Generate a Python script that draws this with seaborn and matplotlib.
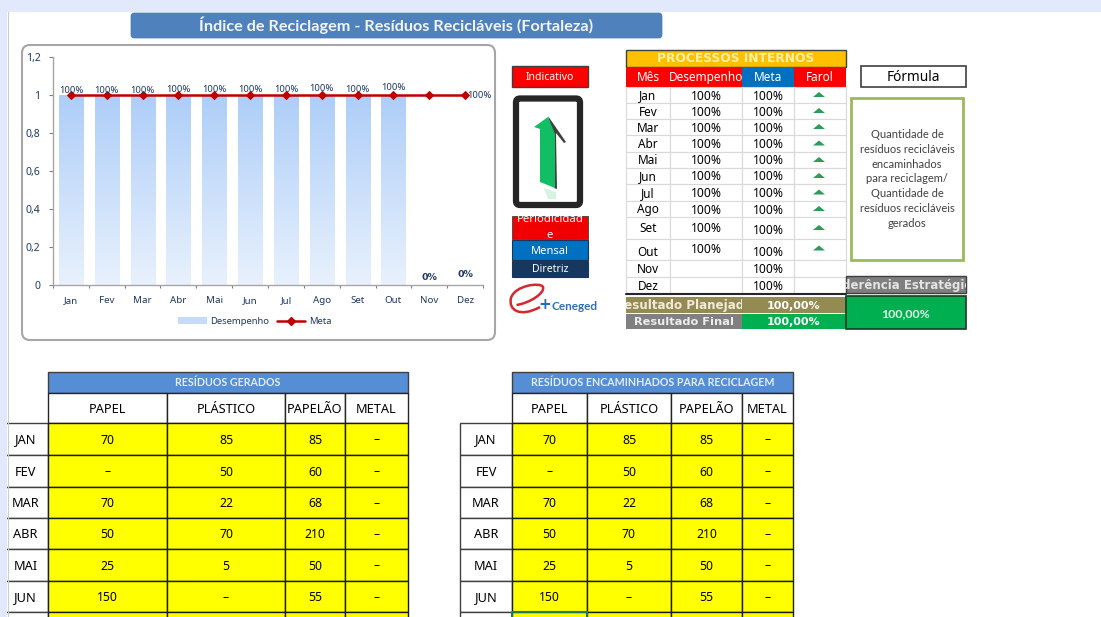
import numpy as np
import seaborn as sns
import matplotlib
matplotlib.use('Agg')
import matplotlib.pyplot as plt
from matplotlib.colors import LinearSegmentedColormap
from matplotlib.lines import Line2D
from matplotlib.path import Path
from matplotlib.patches import FancyBboxPatch, Patch, PathPatch, Polygon, Rectangle

# dados do grafico
meses = ['Jan', 'Fev', 'Mar', 'Abr', 'Mai', 'Jun', 'Jul', 'Ago', 'Set', 'Out', 'Nov', 'Dez']
desempenho = [1, 1, 1, 1, 1, 1, 1, 1, 1, 1, 0, 0]
meta = [1, 1, 1, 1, 1, 1, 1, 1, 1, 1, 1, 1]
rotulos_desempenho = ['100%'] * 10 + ['0%', '0%']
y_ticks = [0, 0.2, 0.4, 0.6, 0.8, 1, 1.2]
y_tick_labels = ['0', '0,2', '0,4', '0,6', '0,8', '1', '1,2']

# tabela processos internos
tab_desempenho = ['100%'] * 10 + ['', '']
tab_meta = ['100%'] * 12
tab_farol = [1, 1, 1, 1, 1, 1, 1, 1, 1, 1, 0, 0]

# tabelas de residuos
meses_res = ['JAN', 'FEV', 'MAR', 'ABR', 'MAI', 'JUN']
colunas_res = ['PAPEL', 'PLÁSTICO', 'PAPELÃO', 'METAL']
papel = ['70', '–', '70', '50', '25', '150']
plastico = ['85', '50', '22', '70', '5', '–']
papelao = ['85', '60', '68', '210', '50', '55']
metal = ['–', '–', '–', '–', '–', '–']

formula = ('Quantidade de\nresíduos recicláveis\nencaminhados\npara reciclagem/\n'
           'Quantidade de\nresíduos recicláveis\ngerados')

sns.set_theme(style='white')
plt.rcParams['font.family'] = ['Noto Sans', 'DejaVu Sans']

fig = plt.figure(figsize=(11.01, 6.17), dpi=100)
fundo = fig.add_axes([0, 0, 1, 1])
fundo.set_xlim(0, 1101)
fundo.set_ylim(617, 0)
fundo.axis('off')

AZUL_TXT = '#1F3864'


def cell(x0, y0, x1, y1, txt='', fc='white', ec='none', lw=0.8, color='black', fs=8,
         bold=False, clip=False, dy=0, family=None, ls=1.2):
    r = Rectangle((x0, y0), x1 - x0, y1 - y0, facecolor=fc, edgecolor=ec, linewidth=lw, zorder=2)
    fundo.add_patch(r)
    if txt:
        if family is None:
            family = 'DejaVu Sans' if bold else plt.rcParams['font.family']
        t = fundo.text((x0 + x1) / 2, (y0 + y1) / 2 + 1 + dy, txt, ha='center', va='center', color=color,
                       fontsize=fs, fontweight='bold' if bold else 'normal', zorder=4, family=family,
                       linespacing=ls)
        if clip:
            t.set_clip_path(r)
            t.set_clip_on(True)
    return r


# fundo lavanda da janela
fundo.add_patch(Rectangle((0, 0), 1101, 12, facecolor='#E3E9FC', edgecolor='none'))
fundo.add_patch(Rectangle((0, 0), 7, 617, facecolor='#E3E9FC', edgecolor='none', zorder=3))
fundo.plot([7.5, 7.5], [12, 617], color='#C9CDD6', lw=0.8, zorder=3)

# titulo
fundo.add_patch(FancyBboxPatch((133, 15), 527, 21, boxstyle='round,pad=2,rounding_size=3',
                               facecolor='#4F81BD', edgecolor='#4A7AB5', lw=0.5))
fundo.text(396, 25, 'Índice de Reciclagem - Resíduos Recicláveis (Fortaleza)', ha='center', va='center',
           color='#F2F5FA', fontsize=11.7, fontweight='bold', family='Lato')

# moldura do grafico
fundo.add_patch(FancyBboxPatch((30, 53), 457, 279, boxstyle='round,pad=8,rounding_size=8',
                               facecolor='white', edgecolor='#A6A6A6', lw=1.5))

# grafico de barras + linha
ax = fig.add_axes([53 / 1101, 1 - 285 / 617, 430 / 1101, 228 / 617])
ax.patch.set_alpha(0)
sns.barplot(x=meses, y=desempenho, color='#C6DBF9', width=0.67, ax=ax, zorder=2)

grad = LinearSegmentedColormap.from_list('grad', ['#AECEF8', '#E8F1FD'])
g = np.linspace(0, 1, 64).reshape(-1, 1)
for p in ax.patches:
    if p.get_height() > 0:
        ax.imshow(g, cmap=grad, aspect='auto', zorder=2,
                  extent=(p.get_x(), p.get_x() + p.get_width(), 0, p.get_height()))

sns.lineplot(x=meses, y=meta, color='#C00000', lw=1.8, marker='D', ms=4.5, mec='#C00000',
             errorbar=None, ax=ax, zorder=3)

ax.set_xlim(-0.5, 11.5)
ax.set_ylim(0, 1.2)
ax.set_yticks(y_ticks)
ax.set_yticklabels(y_tick_labels)
ax.set_xticks(np.arange(-0.5, 12, 1), minor=True)
for s in ['top', 'right']:
    ax.spines[s].set_visible(False)
for s in ['left', 'bottom']:
    ax.spines[s].set_color('#A6A6A6')
    ax.spines[s].set_linewidth(1)
ax.tick_params(axis='x', which='major', length=0, labelsize=7, labelcolor=AZUL_TXT, pad=8)
ax.tick_params(axis='x', which='minor', length=2, width=0.8, color='#808080', bottom=True)
ax.tick_params(axis='y', length=3, width=0.8, color='#808080', labelsize=7.5, labelcolor=AZUL_TXT, left=True, pad=6)

desloc = [0.0, 0.0, 0.0, 0.005, 0.005, 0.005, 0.005, 0.01, 0.005, 0.015, 0.018, 0.033]
for i, r in enumerate(rotulos_desempenho):
    ax.text(i, desempenho[i] + desloc[i], r, ha='center', va='bottom', fontsize=6.8, color=AZUL_TXT,
            fontweight='bold' if i >= 10 else 'normal', zorder=5,
            family='DejaVu Sans' if i >= 10 else 'Noto Sans')
ax.text(11.05, meta[-1], '100%', ha='left', va='center', fontsize=6.8, color=AZUL_TXT, zorder=5)

hs = [Patch(facecolor='#C6DBF9', edgecolor='none'),
      Line2D([], [], color='#C00000', lw=1.8, marker='D', ms=4)]
ax.legend(hs, ['Desempenho', 'Meta'], loc='center', bbox_to_anchor=(0.47, -0.16), ncol=2, frameon=False,
          fontsize=6.8, labelcolor=AZUL_TXT, handlelength=3, columnspacing=0.8, handletextpad=0.4)

# coluna do indicador
cell(512, 66, 588, 87, 'Indicativo', fc='#FF0000', ec='#404040', lw=1, color='white', fs=7.5)
fundo.add_patch(FancyBboxPatch((519, 101.5), 58, 100.5, boxstyle='round,pad=3,rounding_size=4',
                               facecolor='white', edgecolor='#262626', lw=4.5))
fundo.add_patch(Polygon([[548, 116], [566, 142], [564, 143], [556, 133], [557, 189], [554, 188], [553, 135]],
                        facecolor='#404040', edgecolor='none'))
fundo.add_patch(Polygon([[548, 117], [534, 127], [540, 129], [540, 182], [555, 188], [555, 134]],
                        facecolor='#10BE63', edgecolor='none'))
fundo.add_patch(Polygon([[544, 188], [556, 192], [556, 199], [548, 199]], facecolor='#D4F4E2', edgecolor='none'))
cell(512, 216, 588, 239, 'Periodicidad\ne', fc='#F00000', ec='#404040', lw=0.6, color='white', fs=8.2,
     clip=True, dy=-1, ls=1.5)
cell(512, 240, 588, 260, 'Mensal', fc='#0070C0', ec='#17375E', lw=0.8, color='white', fs=8)
cell(512, 261, 588, 277, 'Diretriz', fc='#17375E', ec='#17375E', lw=0.8, color='white', fs=7.5)

# logo
logo = Path([(516.5, 305), (530, 303), (545, 293), (543, 287), (541, 282), (515, 285), (511, 298),
             (508, 310), (520, 318), (540, 307)],
            [Path.MOVETO] + [Path.CURVE4] * 9)
fundo.add_patch(PathPatch(logo, facecolor='none', edgecolor='#D8262E', lw=1.8))
fundo.text(545, 304.5, '+', color='#1F6FB5', fontsize=11, fontweight='bold', ha='center', va='center',
           family='DejaVu Sans')
fundo.text(575, 306, 'Ceneged', color='#2F6FB7', fontsize=8.5, ha='center', va='center', family='Lato', fontweight='bold')

# processos internos
xc = [626, 670, 742, 794, 846]
cell(xc[0], 50, xc[4], 66.5, 'PROCESSOS INTERNOS', fc='#FFC000', ec='#404040', lw=1, color='#FFF2A8', fs=8.8,
     bold=True, dy=-1)
cell(xc[0], 67, xc[1], 86.5, 'Mês', fc='#FF0000', color='white', fs=8.5)
cell(xc[1], 67, xc[2], 86.5, 'Desempenho', fc='#FF0000', color='white', fs=8.5, clip=True)
cell(xc[2], 67, xc[3], 86.5, 'Meta', fc='#0070C0', color='white', fs=8.5)
cell(xc[3], 67, xc[4], 86.5, 'Farol', fc='#FF0000', color='white', fs=8.5)

linhas = [87, 103, 119, 135, 152, 168, 184, 201, 217, 239, 260, 277, 293]
ajuste_meta = [0, 0, 0, 0, 0, 0, 0, 0, 2, 2, 0, 0]
ajuste_mes = [0, 0, 0, 0, 0, 0, 0, 0, 0, 2, 0, 0]
ajuste_des = [0, 0, 0, 0, 0, 0, 0, 0, 0, -1, 0, 0]
for i, m in enumerate(meses):
    y0, y1 = linhas[i], linhas[i + 1]
    cell(xc[0], y0, xc[1], y1, m, ec='#D9D9D9', fs=8.5, dy=ajuste_mes[i])
    cell(xc[1], y0, xc[2], y1, tab_desempenho[i], ec='#D9D9D9', fs=8.7, dy=ajuste_des[i])
    cell(xc[2], y0, xc[3], y1, tab_meta[i], ec='#D9D9D9', fs=8.7, dy=ajuste_meta[i])
    cell(xc[3], y0, xc[4], y1, '', ec='#D9D9D9')
    if tab_farol[i]:
        yf = (y0 + y1) / 2 + ajuste_des[i]
        fundo.add_patch(Polygon([[813, yf + 2], [819, yf - 3], [825, yf + 2]], facecolor='#2E9B58',
                                edgecolor='none', zorder=5))
fundo.plot([xc[0], xc[4]], [293.5, 293.5], color='#262626', lw=1.5, zorder=5)

cell(xc[0], 297, xc[2], 313, 'Resultado Planejado', fc='#948A54', color='#EFEBD8', fs=8.6, bold=True, clip=True)
cell(xc[2], 297, xc[4], 313, '100,00%', fc='#948A54', color='white', fs=8, bold=True)
cell(xc[0], 313.5, xc[2], 329, 'Resultado Final', fc='#808080', color='#EDEDED', fs=8.2, bold=True)
cell(xc[2], 313.5, xc[4], 329, '100,00%', fc='#00B050', color='white', fs=8, bold=True)

# formula
cell(861, 66, 966, 87, 'Fórmula', ec='#404040', lw=1.2, fs=9.8)
fundo.add_patch(Rectangle((851, 98), 112, 162, facecolor='white', edgecolor='#9BBB59', lw=2))
fundo.text(907, 179, formula, ha='center', va='center', fontsize=8, color='#404040', linespacing=1.42,
           family='Lato')
cell(846, 276, 966, 293, 'Aderência Estratégica', fc='#7F7F7F', ec='#404040', lw=1, color='#E5E5E5', fs=8.5,
     bold=True, clip=True)
cell(846, 296, 966, 329, '100,00%', fc='#00B050', ec='#1A3A24', lw=1.2, color='#E5F5E5', fs=8.9, bold=True,
     family='Lato')


# tabelas de residuos
def tabela_residuos(titulo, x_mes, xs, marcar=False):
    ys = [423, 455, 487, 518, 549, 581, 612, 650]
    cell(xs[0], 372, xs[4], 392.5, titulo, fc='#558ED5', ec='#404040', lw=1, color='#E4EDF8', fs=7.7, bold=True,
         family='Lato', dy=-1)
    for j, c in enumerate(colunas_res):
        cell(xs[j], 392.5, xs[j + 1], ys[0], c, ec='#262626', lw=1, fs=9.2, dy=0.5)
    valores = [papel, plastico, papelao, metal]
    for i in range(7):
        nome = meses_res[i] if i < 6 else ''
        cell(x_mes, ys[i], xs[0], ys[i + 1], nome, ec='#404040', lw=1, fs=9.2)
        for j in range(4):
            txt = valores[j][i] if i < 6 else ''
            cell(xs[j], ys[i], xs[j + 1], ys[i + 1], txt, fc='#FFFF00', ec='#1A1A1A', lw=1, fs=8.8)
    if marcar:
        fundo.add_patch(Rectangle((xs[0], ys[6]), xs[1] - xs[0], 30, facecolor='none', edgecolor='#1E7B5A',
                                  lw=1.5, zorder=6))


tabela_residuos('RESÍDUOS GERADOS', 3, [48, 167, 285, 345, 408])
tabela_residuos('RESÍDUOS ENCAMINHADOS PARA RECICLAGEM', 460, [512, 587, 671, 742, 793], marcar=True)

fig.savefig('out.png', dpi=100)
